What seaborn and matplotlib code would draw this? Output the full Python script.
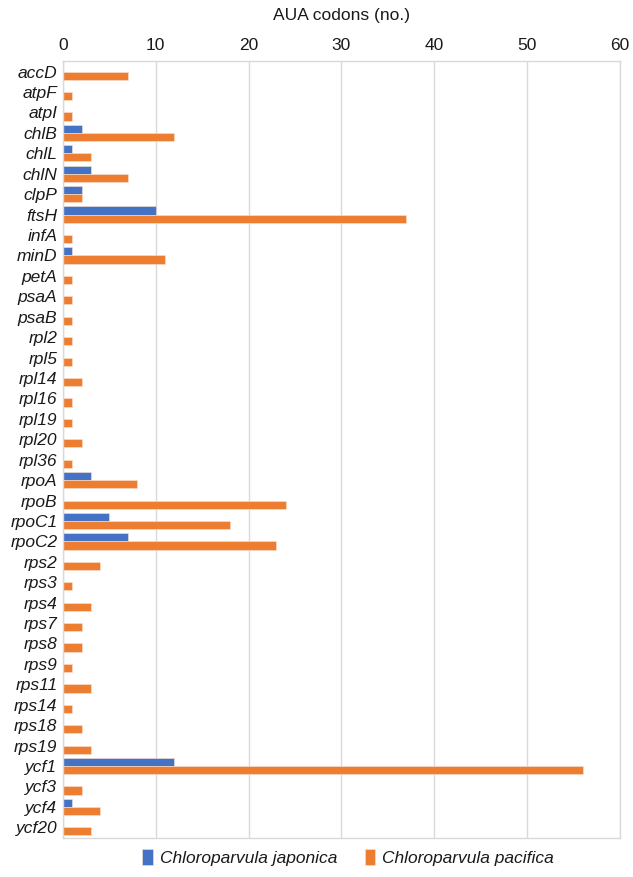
import numpy as np
import pandas as pd
import matplotlib.pyplot as plt
import seaborn as sns

genes = ['accD', 'atpF', 'atpI', 'chlB', 'chlL', 'chlN', 'clpP', 'ftsH', 'infA', 'minD',
         'petA', 'psaA', 'psaB', 'rpl2', 'rpl5', 'rpl14', 'rpl16', 'rpl19', 'rpl20', 'rpl36',
         'rpoA', 'rpoB', 'rpoC1', 'rpoC2', 'rps2', 'rps3', 'rps4', 'rps7', 'rps8', 'rps9',
         'rps11', 'rps14', 'rps18', 'rps19', 'ycf1', 'ycf3', 'ycf4', 'ycf20']
japonica = [0, 0, 0, 2, 1, 3, 2, 10, 0, 1,
            0, 0, 0, 0, 0, 0, 0, 0, 0, 0,
            3, 0, 5, 7, 0, 0, 0, 0, 0, 0,
            0, 0, 0, 0, 12, 0, 1, 0]
pacifica = [7, 1, 1, 12, 3, 7, 2, 37, 1, 11,
            1, 1, 1, 1, 1, 2, 1, 1, 2, 1,
            8, 24, 18, 23, 4, 1, 3, 2, 2, 1,
            3, 1, 2, 3, 56, 2, 4, 3]
species = ['Chloroparvula japonica', 'Chloroparvula pacifica']
colors = ['#4472C4', '#ED7D31']

df = pd.DataFrame({
    'gene': genes * 2,
    'count': japonica + pacifica,
    'species': [species[0]] * len(genes) + [species[1]] * len(genes),
})

sns.set_style('white')
plt.rcParams['font.family'] = ['Liberation Sans', 'DejaVu Sans']

fig = plt.figure(figsize=(6.33, 8.77), dpi=100)
ax = fig.add_axes([0.0995, 0.045, 0.8795, 0.885])

sns.barplot(data=df, x='count', y='gene', hue='species', order=genes,
            hue_order=species, palette=colors, saturation=1, width=0.8, orient='h',
            edgecolor='#FBE3D3', linewidth=0.4, ax=ax, legend=True)

ax.set_xlim(0, 60)
ax.set_xticks(np.arange(0, 61, 10))
ax.xaxis.tick_top()
ax.xaxis.set_label_position('top')
ax.set_xlabel('AUA codons (no.)', fontsize=12.5, color='#1a1a1a', labelpad=13)
ax.set_ylabel('')
ax.tick_params(axis='x', labelsize=12.5, colors='#1a1a1a', length=0, pad=6)
ax.tick_params(axis='y', labelsize=12.5, colors='#1a1a1a', length=0, pad=4)
for lbl in ax.get_yticklabels():
    lbl.set_fontstyle('italic')

ax.grid(axis='x', color='#D9D9D9', linewidth=1)
ax.set_axisbelow(True)
for s in ax.spines.values():
    s.set_color('#D9D9D9')
    s.set_linewidth(1)

handles, labels = ax.get_legend_handles_labels()
ax.legend_.remove()
leg = fig.legend(handles, labels, loc='center', bbox_to_anchor=(0.55, 0.022), ncol=2,
                 frameon=False, fontsize=12.5, handlelength=0.6, handleheight=1.0,
                 columnspacing=1.6, handletextpad=0.4)
for t in leg.get_texts():
    t.set_fontstyle('italic')
    t.set_color('#1a1a1a')

fig.savefig('out.png', dpi=100)
